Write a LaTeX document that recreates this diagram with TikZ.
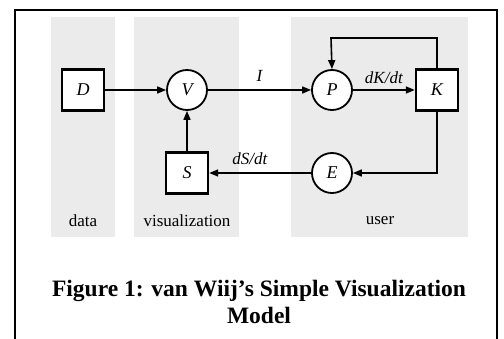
\documentclass[tikz,border=0pt]{standalone}
\usepackage{fontspec}
\setmainfont{Liberation Serif}
\usetikzlibrary{arrows.meta}
\definecolor{panel}{HTML}{EBEBEB}
\tikzset{
  boxnode/.style={draw, line width=2.4pt, fill=white, minimum width=42pt, minimum height=41pt, inner sep=0pt, font=\fontsize{18}{18}\selectfont\itshape},
  circnode/.style={draw, line width=1.8pt, fill=white, circle, minimum size=40pt, inner sep=0pt, font=\fontsize{18}{18}\selectfont\itshape},
  conn/.style={line width=1.6pt, -{Triangle[length=9pt,width=7pt]}},
  lbl/.style={font=\fontsize{17}{17}\selectfont\itshape, inner sep=0pt},
  panellbl/.style={font=\fontsize{17}{17}\selectfont, inner sep=0pt},
  caption/.style={font=\fontsize{23.5}{27}\selectfont\bfseries, inner sep=0pt, align=center}
}
\begin{document}
\begin{tikzpicture}[x=1pt,y=-1pt]
\useasboundingbox (0,0) rectangle (504,339);
% frame
\draw[line width=1.8pt] (15,339) -- (15,10) -- (497,10) -- (497,339);
% panels
\fill[panel] (51,17) rectangle (115,237);
\fill[panel] (134,17) rectangle (239,237);
\fill[panel] (291,17) rectangle (468,237);
\node[panellbl] (ldata) at (83,221) {data};
\node[panellbl] (lvis) at (187,221) {visualization};
\node[panellbl] (luser) at (380,221) {user};
% nodes
\node[boxnode] (D) at (83,90) {D};
\node[circnode] (V) at (187,90) {V};
\node[circnode] (P) at (332,90) {P};
\node[boxnode] (K) at (437,90) {K};
\node[boxnode] (S) at (187,173) {S};
\node[circnode] (E) at (332,173) {E};
% connectors
\draw[conn] (D) -- (V);
\draw[conn] (V) -- node[lbl, above=8pt] (lI) {I} (P);
\draw[conn] (P) -- node[lbl, above=6pt] (ldK) {dK/dt} (K);
\draw[conn] (K.north) |- (331,38) -- (P.north);
\draw[conn] (K.south) |- (E.east);
\draw[conn] (E) -- node[lbl, above=8pt, pos=0.6] (ldS) {dS/dt} (S);
\draw[conn] (S) -- (V);
% caption
\node[caption] (cap) at (259,302) {Figure 1: van Wiij’s Simple Visualization\\Model};
\end{tikzpicture}
\end{document}
